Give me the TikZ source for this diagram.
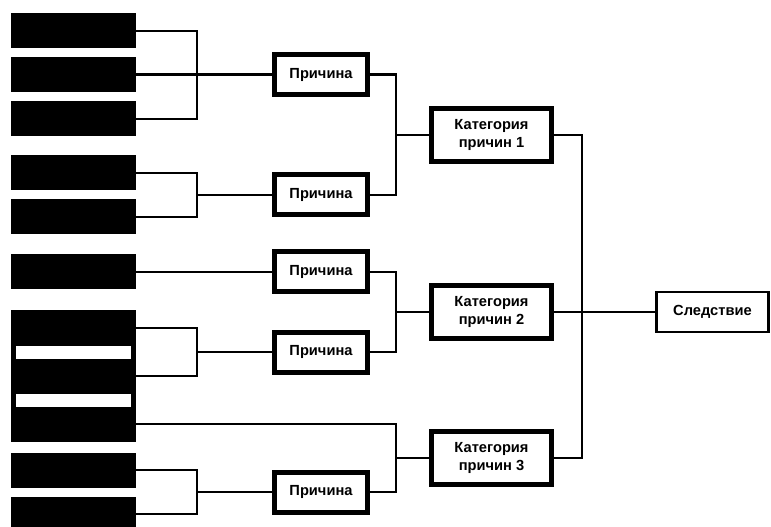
\documentclass[tikz,border=0pt]{standalone}
\usepackage{fontspec}
\setmainfont{Liberation Sans}
\usetikzlibrary{calc}

\begin{document}
\begin{tikzpicture}[
        x=0.75pt, y=-0.75pt,
        wire/.style={line width=2.1pt},
        blackbar/.style={fill=black, draw=none, inner sep=0pt,
            minimum width=93.75pt, minimum height=26.25pt},
        stripe/.style={fill=white, draw=none, inner sep=0pt,
            minimum width=86.25pt, minimum height=9.75pt},
        cause/.style={draw, line width=3.75pt, inner sep=0pt,
            minimum width=69.75pt, minimum height=30pt,
            font=\fontsize{11}{14}\selectfont\bfseries},
        category/.style={cause, minimum width=90pt, minimum height=39.75pt, align=center},
        effect/.style={cause, line width=2pt, minimum width=84pt, minimum height=30pt}
    ]

    \useasboundingbox (0,0) rectangle (771,527);
    \clip (0,0) rectangle (771,527);

    % left column
    \node[blackbar] (b1) at (73.5,31) {};
    \node[blackbar] (b2) at (73.5,74.5) {};
    \node[blackbar] (b3) at (73.5,119) {};
    \node[blackbar] (b4) at (73.5,173) {};
    \node[blackbar] (b5) at (73.5,217) {};
    \node[blackbar] (b6) at (73.5,272) {};
    \node[blackbar] (b7) at (73.5,328) {};
    \node[blackbar] (b8) at (73.5,376) {};
    \node[blackbar] (b9) at (73.5,424) {};
    \node[blackbar] (b10) at (73.5,470) {};
    \node[blackbar] (b11) at (73.5,514) {};
    \fill[black] (b7.north west) rectangle (b9.south east);
    \node[stripe] (s1) at ($(b7.south)!.5!(b8.north)$) {};
    \node[stripe] (s2) at ($(b8.south)!.5!(b9.north)$) {};

    \node[cause] (p1) at (321,74.5) {Причина};
    \node[cause] (p2) at (321,195) {Причина};
    \node[cause] (p3) at (321,272) {Причина};
    \node[cause] (p4) at (321,352) {Причина};
    \node[cause] (p5) at (321,492) {Причина};

    \node[category] (c1) at (491.5,135) {Категория\\причин 1};
    \node[category] (c2) at (491.5,312) {Категория\\причин 2};
    \node[category] (c3) at (491.5,458) {Категория\\причин 3};

    \node[effect] (eff) at (712.5,312) {Следствие};

    \coordinate (j1) at (197,74.5);
    \coordinate (j2) at (197,195);
    \coordinate (j3) at (197,352);
    \coordinate (j4) at (197,492);
    \coordinate (k1) at (396,135);
    \coordinate (k2) at (396,312);
    \coordinate (k3) at (396,458);
    \coordinate (m1) at (582,312);

    \draw[wire] (b1.east) -| (j1) |- (b3.east);
    \draw[wire] (b2.east) -- (p1.west);
    \draw[wire] (b4.east) -| (j2) |- (b5.east);
    \draw[wire] (j2) -- (p2.west);
    \draw[wire] (b6.east) -- (p3.west);
    \draw[wire] (b7.east) -| (j3) |- (b8.east);
    \draw[wire] (j3) -- (p4.west);
    \draw[wire] (b10.east) -| (j4) |- (b11.east);
    \draw[wire] (j4) -- (p5.west);

    \draw[wire] (p1.east) -| (k1) |- (p2.east);
    \draw[wire] (k1) -- (c1.west);
    \draw[wire] (p3.east) -| (k2) |- (p4.east);
    \draw[wire] (k2) -- (c2.west);
    \draw[wire] (b9.east) -| (k3) |- (p5.east);
    \draw[wire] (k3) -- (c3.west);

    \draw[wire] (c1.east) -| (m1) |- (c3.east);
    \draw[wire] (c2.east) -- (eff.west);

\end{tikzpicture}
\end{document}
